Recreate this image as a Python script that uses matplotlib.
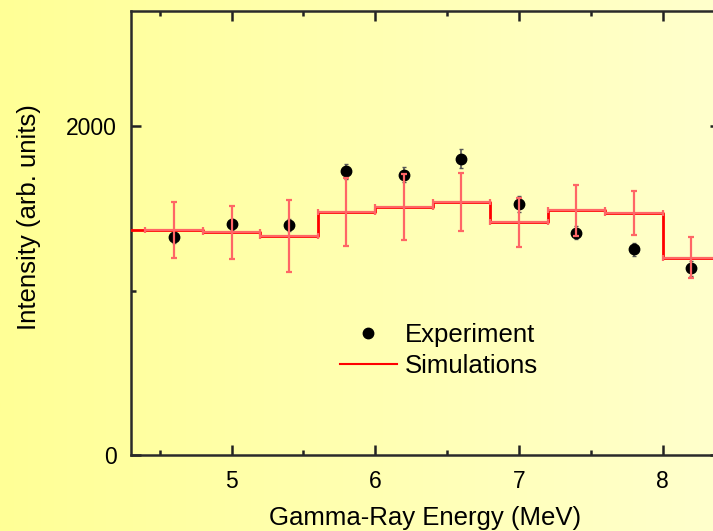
import numpy as np
import matplotlib
matplotlib.use("Agg")
import matplotlib.pyplot as plt
from matplotlib.lines import Line2D
from matplotlib.ticker import MultipleLocator

plt.rcParams['font.family'] = ['Liberation Sans', 'DejaVu Sans']

# Measured spectrum
exp_energy = [4.6, 5.0, 5.4, 5.8, 6.2, 6.6, 7.0, 7.4, 7.8, 8.2]
exp_intensity = [1327, 1402, 1398, 1726, 1704, 1801, 1525, 1351, 1250, 1135]
exp_error = [40, 35, 35, 45, 45, 58, 50, 40, 40, 45]

# Simulated spectrum (binned)
sim_edges = [4.2, 4.8, 5.2, 5.6, 6.0, 6.4, 6.8, 7.2, 7.6, 8.0, 8.4]
sim_centers = [4.6, 5.0, 5.4, 5.8, 6.2, 6.6, 7.0, 7.4, 7.8, 8.2]
sim_intensity = [1368, 1355, 1333, 1477, 1508, 1538, 1414, 1487, 1471, 1200]
sim_error = [173, 161, 219, 208, 203, 177, 151, 156, 132, 125]
sim_halfwidth = [0.2] * 10

W, H = 713, 531
fig = plt.figure(figsize=(W / 100, H / 100), dpi=100)

# Horizontal yellow gradient behind everything
bg = fig.add_axes([0, 0, 1, 1], zorder=-10)
left_col = np.array([255, 255, 150]) / 255
right_col = np.array([255, 255, 204]) / 255
t = np.linspace(0, 1, 256)[None, :, None]
grad = left_col[None, None, :] * (1 - t) + right_col[None, None, :] * t
bg.imshow(grad, aspect='auto', extent=[0, 1, 0, 1])
bg.set_axis_off()

ax = fig.add_axes([131 / W, (H - 455) / H, (720 - 131) / W, (455 - 11) / H])
ax.set_facecolor('none')

ax.errorbar(exp_energy, exp_intensity, yerr=exp_error, fmt='o', color='black',
            ms=7.5, ecolor='#555555', elinewidth=1.2, capsize=1.5, zorder=2)

# step outline of the simulated bins
step_y = list(sim_intensity) + [sim_intensity[-1]]
ax.plot(sim_edges, step_y, drawstyle='steps-post', color='#ff0000', lw=2.0, zorder=3)

ax.errorbar(sim_centers, sim_intensity, xerr=sim_halfwidth, yerr=sim_error,
            fmt='none', ecolor='#ff6666', elinewidth=1.6, capsize=2, capthick=1.6, zorder=4)

ax.set_xlim(4.3, 8.4)
ax.set_ylim(0, 2700)
ax.xaxis.set_major_locator(MultipleLocator(1))
ax.xaxis.set_minor_locator(MultipleLocator(0.5))
ax.yaxis.set_major_locator(MultipleLocator(2000))
ax.yaxis.set_minor_locator(MultipleLocator(1000))
ax.tick_params(which='both', direction='in', top=True, right=True,
               color='#222222', width=1.8, labelsize=16.5, labelcolor='black')
ax.tick_params(axis='x', pad=11)
ax.tick_params(axis='y', pad=10)
ax.tick_params(which='major', length=7)
ax.tick_params(which='minor', length=3.5)
for sp in ax.spines.values():
    sp.set_linewidth(1.8)
    sp.set_color('#2a2a2a')

ax.set_xlabel('Gamma-Ray Energy (MeV)', fontsize=18.5)
ax.set_ylabel('Intensity (arb. units)', fontsize=18.5)
ax.xaxis.set_label_coords(0.5, -0.115)
ax.yaxis.set_label_coords(-0.152, 0.536)

handles = [Line2D([], [], marker='o', ls='none', color='black', ms=7.5),
           Line2D([], [], color='#ff0000', lw=1.5)]
fig.legend(handles, ['Experiment', 'Simulations'], loc='upper left',
           bbox_to_anchor=(340 / W, 1 - 323 / H), frameon=False, fontsize=18.5,
           handlelength=2.2, handletextpad=0.33, labelspacing=0.28,
           borderpad=0, borderaxespad=0)

fig.savefig('out.png', dpi=100)
